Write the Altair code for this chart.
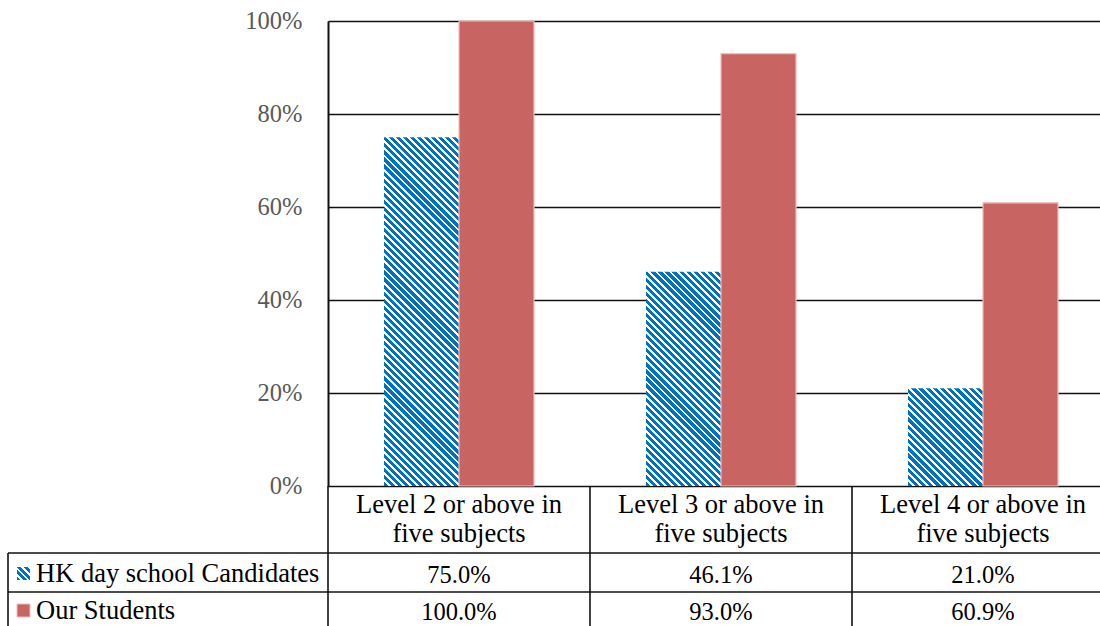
import math

import altair as alt
import pandas as pd

# ---- data -------------------------------------------------------------
categories = [
    "Level 2 or above in five subjects",
    "Level 3 or above in five subjects",
    "Level 4 or above in five subjects",
]
series = ["HK day school Candidates", "Our Students"]
hk_values = [75.0, 46.1, 21.0]
our_values = [100.0, 93.0, 60.9]
y_ticks = [0, 20, 40, 60, 80, 100]

# ---- layout / style ---------------------------------------------------
FONT = "Times New Roman, Liberation Serif, Tinos, DejaVu Serif, serif"
PLOT_W = 772          # visible part of the plot area
COLUMNS_W = 786       # three table columns of 262 px
PLOT_H = 465
LEFT = 328
TOP = 21
BLUE = "#0070C0"
RED = "#C86461"
RED_EDGE = "#EDBDBB"
LINE = "#111111"

HEADER_Y = 492        # first line of the column headings
ROW_LINES = [532, 571]
ROW_TEXT_Y = [562, 599]
LABEL_X = -292
TABLE_LEFT = -320
BOTTOM = 680

df = pd.DataFrame(
    {
        "category": categories * 2,
        "series": [series[0]] * 3 + [series[1]] * 3,
        "value": hk_values + our_values,
    }
)
cat_df = pd.DataFrame({"category": categories})
one = pd.DataFrame({"k": [0]})

x_scale = alt.Scale(domain=categories, range=[0, COLUMNS_W], paddingInner=0, paddingOuter=0)
off_scale = alt.Scale(domain=series, paddingInner=0, paddingOuter=0.7467)
y_scale = alt.Scale(domain=[0, 100])

y_axis = alt.Axis(
    values=y_ticks,
    labelExpr="datum.value + '%'",
    title=None,
    grid=True,
    gridColor=LINE,
    gridWidth=1.6,
    domain=True,
    domainColor=LINE,
    domainWidth=2,
    ticks=False,
    labelPadding=26,
    labelFont=FONT,
    labelFontSize=24.5,
    labelColor="#595959",
)


def hatch(w, h, period=5.0, frac=0.6):
    """Diagonal '\\' stripes as a bounding-box linear gradient for a w x h rect."""
    length = (w + h) / math.sqrt(2)
    n = max(1, round(length / period))
    s = (w + h) / (w * w + h * h)
    stops = []
    for k in range(n):
        a = round(k / n, 6)
        b = round((k + frac) / n, 6)
        c = round((k + 1) / n, 6)
        stops += [
            {"offset": a, "color": BLUE},
            {"offset": b, "color": BLUE},
            {"offset": b, "color": "white"},
            {"offset": c, "color": "white"},
        ]
    return {
        "gradient": "linear",
        "x1": 0,
        "y1": 1,
        "x2": round(s * w, 6),
        "y2": round(1 - s * h, 6),
        "stops": stops,
    }


BAR_W = COLUMNS_W / 3 / (2 + 2 * 0.7467)

base = alt.Chart(df)
layers = []

# hatched bars: one layer per bar so each stripe gradient fits its own size
for cat, v in zip(categories, hk_values):
    layers.append(
        base.transform_filter(
            (alt.datum.series == series[0]) & (alt.datum.category == cat)
        )
        .mark_bar(fill=hatch(BAR_W, v / 100 * PLOT_H), strokeWidth=0)
        .encode(
            x=alt.X("category:N", scale=x_scale, axis=None),
            xOffset=alt.XOffset("series:N", scale=off_scale),
            y=alt.Y("value:Q", scale=y_scale, axis=y_axis),
        )
    )

# solid bars
layers.append(
    base.transform_filter(alt.datum.series == series[1])
    .mark_bar(fill=RED, stroke=RED_EDGE, strokeWidth=1.2)
    .encode(
        x=alt.X("category:N", scale=x_scale, axis=None),
        xOffset=alt.XOffset("series:N", scale=off_scale),
        y=alt.Y("value:Q", scale=y_scale, axis=y_axis),
    )
)

# data table: column borders
layers.append(
    alt.Chart(cat_df)
    .mark_rule(color=LINE, strokeWidth=1.6)
    .encode(
        x=alt.X("category:N", scale=x_scale, bandPosition=0, axis=None),
        y=alt.value(PLOT_H),
        y2=alt.value(BOTTOM),
    )
)
# row borders
for ry in ROW_LINES:
    layers.append(
        alt.Chart(one)
        .mark_rule(color=LINE, strokeWidth=1.6)
        .encode(x=alt.value(TABLE_LEFT), x2=alt.value(PLOT_W), y=alt.value(ry))
    )
# left border of the series column
layers.append(
    alt.Chart(one)
    .mark_rule(color=LINE, strokeWidth=1.6)
    .encode(x=alt.value(TABLE_LEFT), y=alt.value(ROW_LINES[0]), y2=alt.value(BOTTOM))
)

# column headings
layers.append(
    alt.Chart(cat_df)
    .transform_calculate(label="replace(datum.category, ' five', '\\nfive')")
    .mark_text(
        font=FONT,
        fontSize=26.5,
        color="black",
        baseline="alphabetic",
        lineBreak="\n",
        lineHeight=28.5,
    )
    .encode(
        x=alt.X("category:N", scale=x_scale, axis=None),
        y=alt.value(HEADER_Y),
        text="label:N",
    )
)

# table values, series names and keys
keys = [hatch(13, 13), RED]
for i, name in enumerate(series):
    ty = ROW_TEXT_Y[i]
    layers.append(
        base.transform_filter(alt.datum.series == name)
        .transform_calculate(label="format(datum.value, '.1f') + '%'")
        .mark_text(font=FONT, fontSize=24.5, color="black", baseline="alphabetic")
        .encode(
            x=alt.X("category:N", scale=x_scale, axis=None),
            y=alt.value(ty),
            text="label:N",
        )
    )
    sdf = pd.DataFrame({"series": [name]})
    layers.append(
        alt.Chart(sdf)
        .mark_text(font=FONT, fontSize=26.5, color="black", align="left", baseline="alphabetic")
        .encode(x=alt.value(LABEL_X), y=alt.value(ty - 1), text="series:N")
    )
    key_mark = (
        alt.Chart(sdf).mark_rect(fill=keys[i], strokeWidth=0)
        if i == 0
        else alt.Chart(sdf).mark_rect(fill=keys[i], stroke=RED_EDGE, strokeWidth=1)
    )
    layers.append(
        key_mark.encode(
            x=alt.value(LABEL_X - 19),
            x2=alt.value(LABEL_X - 6),
            y=alt.value(ty - 16),
            y2=alt.value(ty - 3),
        )
    )

chart = (
    alt.layer(*layers)
    .properties(
        width=PLOT_W,
        height=PLOT_H,
        autosize=alt.AutoSizeParams(type="none"),
        padding={"left": LEFT, "top": TOP, "right": 0, "bottom": 626 - TOP - PLOT_H},
        background="white",
    )
    .configure_view(strokeWidth=0)
)

chart.save("out.html", embed_options={"renderer": "svg", "actions": False})
